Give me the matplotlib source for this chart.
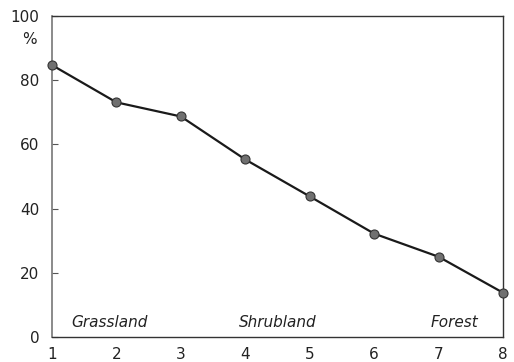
import matplotlib
matplotlib.use("Agg")
import matplotlib.pyplot as plt

x = [1, 2, 3, 4, 5, 6, 7, 8]
share = [84.7, 73.1, 68.7, 55.3, 43.8, 32.2, 25.0, 13.8]
yticks = [0, 20, 40, 60, 80, 100]
zones = ["Grassland", "Shrubland", "Forest"]
zone_x = [1.9, 4.5, 7.25]

plt.rcParams['font.family'] = ['DejaVu Sans']
fig = plt.figure(figsize=(5.14, 3.62), dpi=100)
ax = fig.add_axes([52/514, 25/362, 451/514, 321/362])

ax.plot(x, share, color="#1a1a1a", lw=1.6, marker="o", ms=6.5,
        mfc="#707070", mec="#333333", mew=0.8, clip_on=False, zorder=3)

ax.set_xlim(1, 8)
ax.set_ylim(0, 100)
ax.set_xticks(x)
ax.set_yticks(yticks)
ax.tick_params(axis="x", length=0, pad=7, labelsize=11, colors="#222222")
ax.tick_params(axis="y", direction="in", length=4, width=0.8, pad=9,
               labelsize=11, colors="#555555", labelcolor="#222222")

for side in ["top", "right", "bottom"]:
    ax.spines[side].set_color("#333333")
    ax.spines[side].set_linewidth(1.0)
ax.spines["left"].set_color("#777777")
ax.spines["left"].set_linewidth(1.2)

for name, zx in zip(zones, zone_x):
    ax.text(zx, 4.4, name, ha="center", va="center", style="italic",
            fontsize=11, color="#222222")

ax.text(-0.049, 0.928, "%", transform=ax.transAxes, ha="center", va="center",
        fontsize=11, color="#222222")

fig.savefig("out.png", dpi=100)
